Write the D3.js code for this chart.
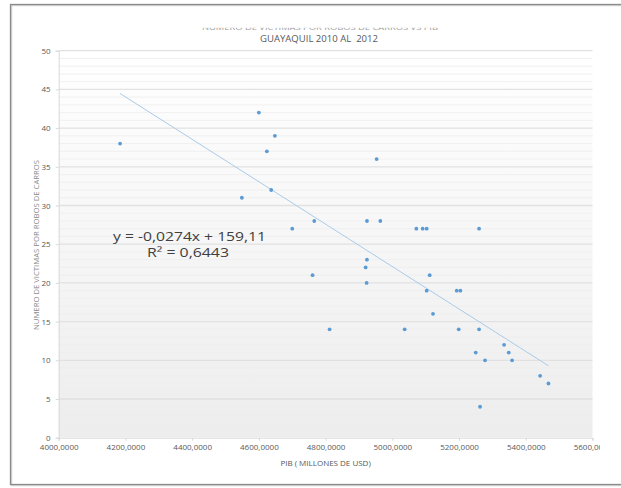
<!DOCTYPE html>
<html><head><meta charset="utf-8">
<script src="https://cdn.jsdelivr.net/npm/d3@7"></script>
<style>
html,body{margin:0;padding:0;background:#fff;}
svg{display:block;font-family:"Open Sans",sans-serif;}
</style></head>
<body>
<script>
// ---- data ----
const pib = [4184,4549,4600,4624,4637,4648,4700,4761,4766,4812,4920,4923,4924,4924,4953,4964,5037,5072,5091,5103,5103,5112,5122,5193,5204,5199,5260,5260,5250,5278,5335,5349,5359,5443,5468,5263];
const victimas = [38,31,42,37,32,39,27,21,28,14,22,20,23,28,36,28,14,27,27,27,19,21,16,19,19,14,27,14,11,10,12,11,10,8,7,4];
const xTicks = [4000,4200,4400,4600,4800,5000,5200,5400,5600];
const yTicks = [0,5,10,15,20,25,30,35,40,45,50];
const slope = -0.0274, intercept = 159.11;
const eqText = "y = -0,0274x + 159,11";
const r2Text = "R² = 0,6443";
const title1 = "NUMERO DE VICTIMAS POR ROBOS DE CARROS VS PIB";
const title2 = "GUAYAQUIL 2010 AL  2012";
const xTitle = "PIB ( MILLONES DE USD)";
const yTitle = "NUMERO DE VICTIMAS POR ROBOS DE CARROS";

const W = 621, H = 488;
const svg = d3.select("body").append("svg").attr("width", W).attr("height", H);
const defs = svg.append("defs");
const grad = defs.append("linearGradient").attr("id","bg").attr("x1",0).attr("y1",0).attr("x2",0).attr("y2",1);
grad.append("stop").attr("offset","0%").attr("stop-color","#ffffff");
grad.append("stop").attr("offset","100%").attr("stop-color","#ededed");
defs.append("clipPath").attr("id","clipR").append("rect").attr("x",0).attr("y",0).attr("width",600).attr("height",H);
defs.append("clipPath").attr("id","clipT").append("rect").attr("x",0).attr("y",27.8).attr("width",W).attr("height",3);

const x = d3.scaleLinear().domain([4000,5600]).range([58.7,592.5]);
const y = d3.scaleLinear().domain([0,50]).range([437.7,50.7]);

// outer frame
svg.append("rect").attr("x",11.5).attr("y",5.5).attr("width",W).attr("height",480)
  .attr("fill","none").attr("stroke","#d6d6d6").attr("stroke-width",1.5);
svg.append("rect").attr("x",10.5).attr("y",4.5).attr("width",W).attr("height",480)
  .attr("fill","none").attr("stroke","#8a8a8a").attr("stroke-width",1.3);

// plot background
svg.append("rect").attr("x",x(4000)).attr("y",y(50)).attr("width",x(5600)-x(4000)).attr("height",y(0)-y(50))
  .attr("fill","url(#bg)");

// minor gridlines
const minor = d3.range(1,50).filter(v => v % 5 !== 0);
svg.append("g").selectAll("line").data(minor).join("line")
  .attr("x1",x(4000)).attr("x2",x(5600)).attr("y1",d=>y(d)).attr("y2",d=>y(d))
  .attr("stroke","#eeeeee").attr("stroke-width",0.8);
// major gridlines
svg.append("g").selectAll("line").data(yTicks.filter(v=>v>0)).join("line")
  .attr("x1",x(4000)).attr("x2",x(5600)).attr("y1",d=>y(d)).attr("y2",d=>y(d))
  .attr("stroke","#e1e1e1").attr("stroke-width",1.3);

// axes
const yAxis = svg.append("g").attr("transform",`translate(${x(4000)},0)`)
  .call(d3.axisLeft(y).tickValues(yTicks).tickSize(3).tickPadding(5));
yAxis.select(".domain").attr("stroke","#d9d9d9");
yAxis.selectAll(".tick line").attr("stroke","#d9d9d9");
yAxis.selectAll(".tick text").attr("fill","#595959").attr("font-size","8px").attr("font-family","Open Sans");

const xAxis = svg.append("g").attr("transform",`translate(0,${y(0)})`).attr("clip-path","url(#clipR)")
  .call(d3.axisBottom(x).tickValues(xTicks).tickSize(3).tickPadding(4).tickFormat(d => d + ",0000"));
xAxis.select(".domain").attr("stroke","#d9d9d9");
xAxis.selectAll(".tick line").attr("stroke","#d9d9d9");
xAxis.selectAll(".tick text").attr("fill","#595959").attr("font-size","8px").attr("font-family","Open Sans");

// trendline
const xmin = d3.min(pib), xmax = d3.max(pib);
svg.append("line").attr("x1",x(xmin)).attr("y1",y(slope*xmin+intercept))
  .attr("x2",x(xmax)).attr("y2",y(slope*xmax+intercept))
  .attr("stroke","#a9cbe9").attr("stroke-width",1);

// points
svg.append("g").selectAll("circle").data(pib.map((v,i)=>[v,victimas[i]])).join("circle")
  .attr("cx",d=>x(d[0])).attr("cy",d=>y(d[1])).attr("r",1.9).attr("fill","#5b9bd5");

// equation
svg.append("text").attr("x",113).attr("y",240.5).attr("font-size","12.5px").attr("fill","#404040")
  .attr("textLength",153).attr("lengthAdjust","spacingAndGlyphs").text(eqText);
svg.append("text").attr("x",147).attr("y",257).attr("font-size","12.5px").attr("fill","#404040")
  .attr("textLength",82).attr("lengthAdjust","spacingAndGlyphs").text(r2Text);

// titles
svg.append("text").attr("x",320).attr("y",29.8).attr("text-anchor","middle").attr("font-size","8px")
  .attr("fill","#9a9a9a").attr("clip-path","url(#clipT)")
  .attr("textLength",236).attr("lengthAdjust","spacingAndGlyphs").text(title1);
svg.append("text").attr("x",319).attr("y",41.5).attr("text-anchor","middle").attr("font-size","8.5px")
  .attr("fill","#595959").style("white-space","pre")
  .attr("textLength",118).attr("lengthAdjust","spacingAndGlyphs").text(title2);
svg.append("text").attr("x",(x(4000)+x(5600))/2).attr("y",466).attr("text-anchor","middle")
  .attr("font-size","8px").attr("fill","#595959").text(xTitle);
svg.append("text").attr("transform","translate(39,245) rotate(-90)").attr("text-anchor","middle")
  .attr("font-size","7.5px").attr("fill","#8a8a8a")
  .attr("textLength",170).attr("lengthAdjust","spacingAndGlyphs").text(yTitle);
</script>
</body></html>
